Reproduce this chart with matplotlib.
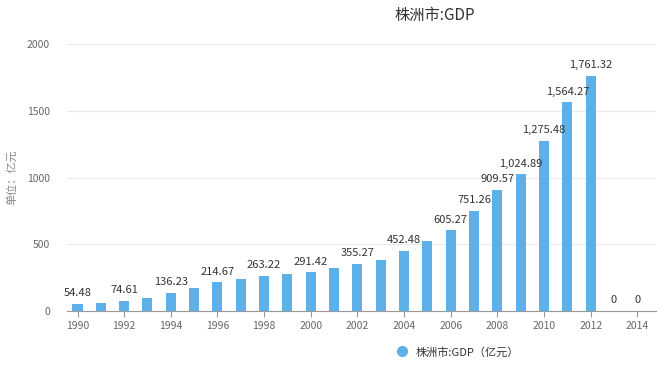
import matplotlib.pyplot as plt
from matplotlib.lines import Line2D

plt.rcParams["font.family"] = ["Noto Sans CJK SC", "DejaVu Sans"]

BAR_COLOR = "#5eb0e8"

years = list(range(1990, 2015))
gdp = [54.48, 62, 74.61, 98, 136.23, 175, 214.67, 238, 263.22, 279,
       291.42, 322, 355.27, 385, 452.48, 522, 605.27, 751.26, 909.57,
       1024.89, 1275.48, 1564.27, 1761.32, 0, 0]
xtick_years = list(range(1990, 2015, 2))
yticks = [0, 500, 1000, 1500, 2000]

W, H = 665, 365
fig = plt.figure(figsize=(W / 100, H / 100), dpi=100)
ax = fig.add_axes([66.7 / W, 1 - 311 / H, (656 - 66.7) / W, (311 - 44) / H])

ax.bar(years, gdp, width=0.43, color=BAR_COLOR, zorder=3)

# labels only where the chart shows them (crowded early years skip odd ones)
for y, v in zip(years, gdp):
    if y % 2 == 0 or y >= 2006:
        txt = "0" if v == 0 else f"{v:,.2f}"
        ax.annotate(txt, (y, v), xytext=(0, 4), textcoords="offset points",
                    ha="center", va="bottom", fontsize=8, color="#333333")

ax.set_xlim(1989.537, 2014.80)
ax.set_ylim(0, 2000)
ax.set_yticks(yticks)
ax.set_xticks(xtick_years)
ax.tick_params(axis="y", length=0, labelsize=7.5, labelcolor="#666666", pad=12)
ax.tick_params(axis="x", length=4, color="#999999", labelsize=7.5,
               labelcolor="#666666", pad=3)
ax.grid(axis="y", color="#ebebeb", linewidth=0.8, zorder=0)
for s in ["top", "right", "left"]:
    ax.spines[s].set_visible(False)
ax.spines["bottom"].set_color("#999999")
ax.spines["bottom"].set_linewidth(0.8)

fig.text(12 / W, 1 - 177 / H, "单位：亿元", rotation=90, ha="center", va="center",
         fontsize=8, color="#888888")
fig.text(435 / W, 1 - 15 / H, "株洲市:GDP", ha="center", va="center",
         fontsize=11, color="#333333")

handle = Line2D([], [], marker="o", linestyle="none", markersize=7,
                markerfacecolor=BAR_COLOR, markeredgecolor=BAR_COLOR)
fig.legend([handle], ["株洲市:GDP（亿元）"], loc="center",
           bbox_to_anchor=(455 / W, 1 - 352 / H), frameon=False,
           fontsize=8, handletextpad=0.3, labelcolor="#333333")

fig.savefig("out.png", dpi=100)
